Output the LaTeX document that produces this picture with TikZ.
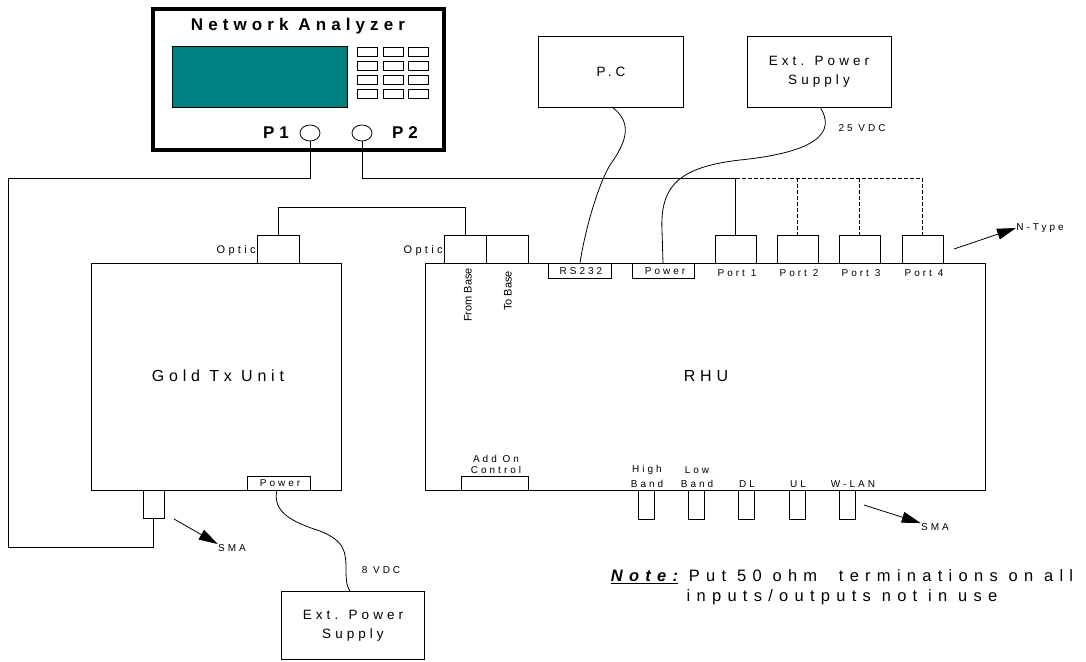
\documentclass[tikz,border=0pt]{standalone}
\usepackage{fontspec}
\setmainfont{Liberation Sans}
\newfontfamily\lsf[LetterSpace=30]{Liberation Sans}
\newfontfamily\notefont[LetterSpace=38]{Liberation Sans}
\usetikzlibrary{arrows.meta,shapes.geometric}
\definecolor{screen}{RGB}{0,128,128}
\begin{document}
\begin{tikzpicture}[x=1pt,y=-1pt,line width=0.8pt,
  box/.style={draw,line width=0.8pt,anchor=north west,inner sep=0pt,outer sep=0pt},
  tsm/.style={inner sep=0pt,font=\lsf\fontsize{10}{11}\selectfont},
  tmd/.style={inner sep=0pt,font=\lsf\fontsize{11}{13}\selectfont},
  tbig/.style={inner sep=0pt,align=center,font=\lsf\fontsize{13.5}{19}\selectfont},
  tunit/.style={inner sep=0pt,font=\lsf\fontsize{16}{19}\selectfont},
  tna/.style={inner sep=0pt,font=\lsf\bfseries\fontsize{17}{20}\selectfont},
  trot/.style={inner sep=0pt,rotate=90,font=\fontsize{11}{13}\selectfont},
  port/.style={ellipse,draw,line width=0.8pt,minimum width=20pt,minimum height=16pt,inner sep=0pt},
  cable/.style={line width=0.8pt},
  pointer/.style={line width=0.8pt,-{Triangle[length=19pt,width=11pt]}}]
\useasboundingbox (0,0) rectangle (1086,661);

% ---------- Network analyzer ----------
\node[box,line width=4pt,minimum width=291pt,minimum height=141pt] (na) at (153,9) {};
\node[tna] (natitle) at (298,26) {Network Analyzer};
\node[box,fill=screen,minimum width=175pt,minimum height=61pt] (scr) at (172,46) {};
\foreach \c/\x in {a/357,b/383,c/408}{
  \foreach \r/\y in {1/47,2/61,3/75,4/89}{
    \node[box,minimum width=20pt,minimum height=9pt] (btn\c\r) at (\x,\y) {};
  }
}
\node[tna] (p1lbl) at (276,133) {P1};
\node[port] (p1) at (310,133) {};
\node[port] (p2) at (362,133) {};
\node[tna] (p2lbl) at (405,133) {P2};

% ---------- PC and upper power supply ----------
\node[box,line width=1pt,minimum width=145pt,minimum height=70pt] (pc) at (538,37) {};
\node[tbig] (pclbl) at (611,72) {P.C};
\node[box,line width=1pt,minimum width=144pt,minimum height=70pt] (eps1) at (747,37) {};
\node[tbig] (eps1lbl) at (819,72) {Ext. Power\\Supply};
\node[tsm] (v25) at (862,128) {25 VDC};

% ---------- Gold Tx unit ----------
\node[box,minimum width=250pt,minimum height=227pt] (gtx) at (91,263) {};
\node[tunit] (gtxlbl) at (218,376) {Gold Tx Unit};
\node[box,minimum width=42pt,minimum height=28pt] (gopt) at (257,235) {};
\node[tmd,anchor=east] (goptlbl) at (256,251) {Optic};
\node[box,minimum width=63pt,minimum height=14pt] (gpow) at (247,476) {};
\node[tsm] (gpowlbl) at (280,483) {Power};
\node[box,minimum width=21pt,minimum height=28pt] (gsma) at (143,490) {};
\node[tsm] (smal) at (232,548) {SMA};
\coordinate (smalarrow) at (174,519);

% ---------- lower power supply ----------
\node[box,line width=1pt,minimum width=143pt,minimum height=68pt] (eps2) at (281,591) {};
\node[tbig] (eps2lbl) at (353,626) {Ext. Power\\Supply};
\node[tsm] (v8) at (381,570) {8 VDC};

% ---------- RHU ----------
\node[box,minimum width=560pt,minimum height=227pt] (rhu) at (425,263) {};
\node[tunit] (rhulbl) at (706,376) {RHU};
\node[box,minimum width=42pt,minimum height=28pt] (rop1) at (444,235) {};
\node[box,minimum width=42pt,minimum height=28pt] (rop2) at (486,235) {};
\node[tmd,anchor=east] (roptlbl) at (443,251) {Optic};
\node[trot] (frombase) at (468,295) {From Base};
\node[trot] (tobase) at (508,291) {To Base};
\node[box,minimum width=63pt,minimum height=15pt] (rs) at (548,263) {};
\node[tsm] (rslbl) at (581,271) {RS232};
\node[box,minimum width=62pt,minimum height=15pt] (rpow) at (632,263) {};
\node[tsm] (rpowlbl) at (665,271) {Power};
\foreach \i/\x in {1/715,2/777,3/839,4/902}{
  \node[box,minimum width=41pt,minimum height=28pt] (port\i) at (\x,235) {};
  \node[tsm] (port\i lbl) at (\x+22,273) {Port \i};
}
\node[tsm,anchor=west] (ntype) at (1016,228) {N-Type};
\coordinate (ntarrow) at (954,249);

\node[box,minimum width=67pt,minimum height=14pt] (addon) at (461,476) {};
\node[tsm,align=center] (addonlbl) at (496,464) {Add On\\Control};

\foreach \n/\x in {hb/638,lb/688,dl/738,ul/789,wl/839}{
  \node[box,minimum width=16pt,minimum height=29pt] (\n) at (\x,490) {};
}
\node[tsm] (hbl1) at (647,470) {High};
\node[tsm] (hbl2) at (647,484) {Band};
\node[tsm] (lbl1) at (697,470) {Low};
\node[tsm] (lbl2) at (697,484) {Band};
\node[tsm] (dllbl) at (747,484) {DL};
\node[tsm] (ullbl) at (798,484) {UL};
\node[tsm] (wllbl) at (853,484) {W-LAN};
\node[tsm] (smar) at (935,527) {SMA};
\coordinate (smararrow) at (864,505);

% ---------- note ----------
\node[inner sep=0pt,align=center,font=\notefont\fontsize{16.5}{20}\selectfont] (note) at (842,587)
  {\underline{\bfseries\itshape Note:} Put 50 ohm \ terminations on all\\inputs/outputs not in use};

% ---------- connectors ----------
\coordinate (bus) at (0,178);
\coordinate (c1) at (8,178);
\coordinate (c2) at (8,547);
\coordinate (optbus) at (0,207);
\draw[cable] (p1.south) |- (c1) -- (c2) -| (gsma.south);
\draw[cable] (p2.south) |- (port1.north |- bus) -- (port1.north);
\draw[cable,dashed,dash pattern=on 4pt off 2pt] (port1.north |- bus) -- (port4.north |- bus);
\foreach \i in {2,3,4}{
  \draw[cable,dashed,dash pattern=on 4pt off 2pt] (port\i.north |- bus) -- (port\i.north);
}
\draw[cable] (gopt.north) |- (rop1.north |- optbus) -- (rop1.north);
\draw[cable] (612,107) .. controls (632,122) and (628,140) .. (610,165)
  .. controls (598,185) and (585,230) .. (rs.north -| 580,0);
\draw[cable] (eps1.south -| 820,0) .. controls (836,132) and (818,152) .. (740,160)
  .. controls (680,167) and (660,185) .. (662,230) -- (rpow.north -| 663,0);
\draw[cable] (gpow.south -| 277,0) .. controls (272,512) and (292,522) .. (320,531)
  .. controls (345,541) and (346,552) .. (346,570) .. controls (346,585) and (348,588) .. (eps2.north -| 350,0);
\draw[pointer] (ntarrow) -- (ntype.west);
\draw[pointer] (smararrow) -- (smar.north west);
\draw[pointer] (smalarrow) -- (smal.north west);
\end{tikzpicture}
\end{document}
